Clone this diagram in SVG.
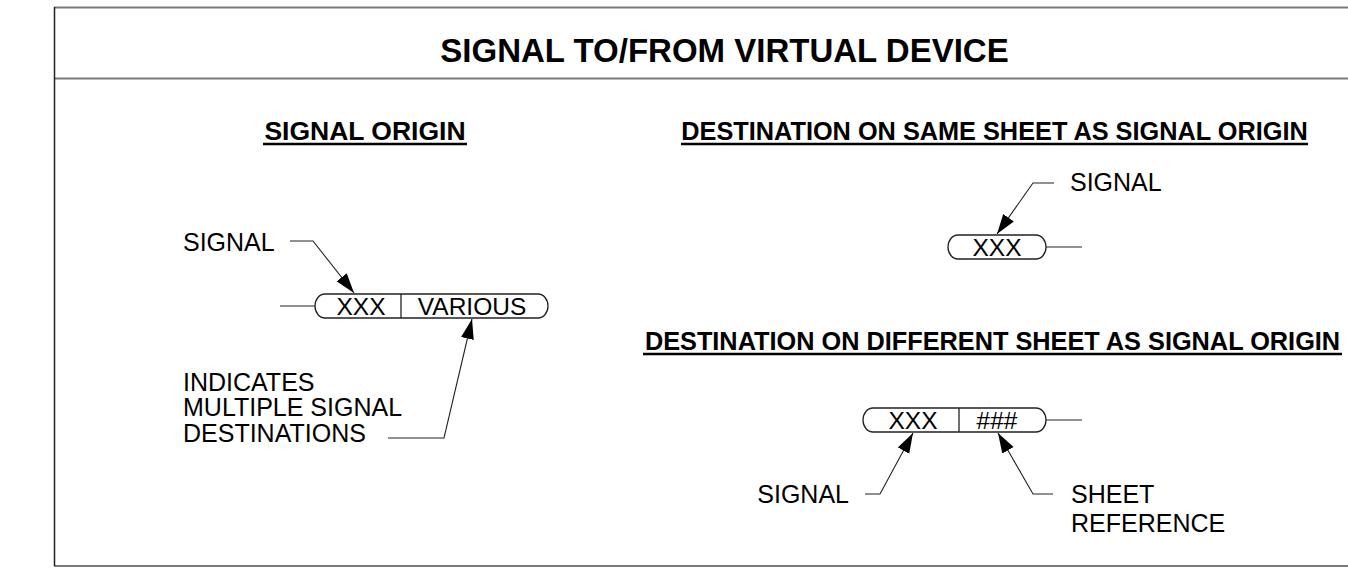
<svg xmlns="http://www.w3.org/2000/svg" width="1348" height="577" viewBox="0 0 1348 577">
<style>
  text { font-family: "Liberation Sans", Arial, sans-serif; fill: #000; }
  .title { font-size: 33px; font-weight: bold; text-anchor: middle; }
  .head { font-size: 25.3px; font-weight: bold; text-anchor: middle; }
  .lbl { font-size: 25px; }
  .pt { font-size: 24.5px; text-anchor: middle; }
  .frame { stroke: #7a7a7a; stroke-width: 2.2; fill: none; }
  .edge { stroke: #222; stroke-width: 1.5; fill: none; }
  .ul { stroke: #000; stroke-width: 2.5; }
  .pill { fill: none; stroke: #222; stroke-width: 1.3; }
  .ln { fill: none; stroke: #222; stroke-width: 1.2; }
  .lead { fill: none; stroke: #222; stroke-width: 1.1; }
</style>
<defs>
  <marker id="ah" markerUnits="userSpaceOnUse" markerWidth="22" markerHeight="14" refX="20" refY="6.5" orient="auto">
    <path d="M0,0 L20,6.5 L0,13 Z" fill="#000"/>
  </marker>
</defs>
<rect width="1348" height="577" fill="#fff"/>
<g id="frame">
  <line class="frame" x1="54" y1="7.5" x2="1348" y2="7.5"/>
  <line class="frame" x1="54" y1="78.5" x2="1348" y2="78.5"/>
  <line class="frame" x1="54" y1="566" x2="1348" y2="566"/>
  <line class="edge" x1="54.5" y1="7" x2="54.5" y2="566"/>
</g>
<g id="title">
  <text class="title" x="724.5" y="62">SIGNAL TO/FROM VIRTUAL DEVICE</text>
</g>
<g id="heading-origin">
  <text class="head" x="365" y="140" style="font-size:26.5px">SIGNAL ORIGIN</text>
  <line class="ul" x1="263" y1="144" x2="467" y2="144"/>
</g>
<g id="heading-same">
  <text class="head" x="994.5" y="140">DESTINATION ON SAME SHEET AS SIGNAL ORIGIN</text>
  <line class="ul" x1="681" y1="144" x2="1308" y2="144"/>
</g>
<g id="heading-diff">
  <text class="head" x="992.5" y="350">DESTINATION ON DIFFERENT SHEET AS SIGNAL ORIGIN</text>
  <line class="ul" x1="643" y1="354" x2="1342" y2="354"/>
</g>
<g id="origin-pill">
  <path class="pill" d="M325,294 H538 A10,12 0 0 1 538,318 H325 A10,12 0 0 1 325,294 Z"/>
  <line class="pill" x1="401" y1="294" x2="401" y2="318"/>
  <text class="pt" x="361" y="314.5">XXX</text>
  <text class="pt" x="472" y="314.5">VARIOUS</text>
</g>
<g id="origin-labels">
  <text class="lbl" x="183" y="251">SIGNAL</text>
  <text class="lbl" x="183" y="391">INDICATES</text>
  <text class="lbl" x="183" y="416">MULTIPLE SIGNAL</text>
  <text class="lbl" x="183" y="442">DESTINATIONS</text>
</g>
<g id="same-pill">
  <path class="pill" d="M958,235 H1036 A10,12 0 0 1 1036,259 H958 A10,12 0 0 1 958,235 Z"/>
  <text class="pt" x="997" y="255.5">XXX</text>
  <text class="lbl" x="1070" y="191">SIGNAL</text>
</g>
<g id="diff-pill">
  <path class="pill" d="M873,408 H1036 A10,12 0 0 1 1036,432 H873 A10,12 0 0 1 873,408 Z"/>
  <line class="pill" x1="959" y1="408" x2="959" y2="432"/>
  <text class="pt" x="913" y="428.5">XXX</text>
  <text class="pt" x="997" y="428.5">###</text>
  <text class="lbl" x="849" y="503" text-anchor="end">SIGNAL</text>
  <text class="lbl" x="1071" y="503">SHEET</text>
  <text class="lbl" x="1071" y="532">REFERENCE</text>
</g>
<g id="connectors">
  <line class="ln" x1="280" y1="306" x2="315" y2="306"/>
  <polyline class="lead" points="290,241 313,241 354,293" marker-end="url(#ah)"/>
  <polyline class="lead" points="388,438 444,438 472,319" marker-end="url(#ah)"/>
  <line class="ln" x1="1046" y1="247" x2="1082" y2="247"/>
  <polyline class="lead" points="1054,183 1033,183 997,234" marker-end="url(#ah)"/>
  <line class="ln" x1="1046" y1="420" x2="1082" y2="420"/>
  <polyline class="lead" points="865,494 880,494 913,433" marker-end="url(#ah)"/>
  <polyline class="lead" points="1053,494 1033,494 998,433" marker-end="url(#ah)"/>
</g>
</svg>
